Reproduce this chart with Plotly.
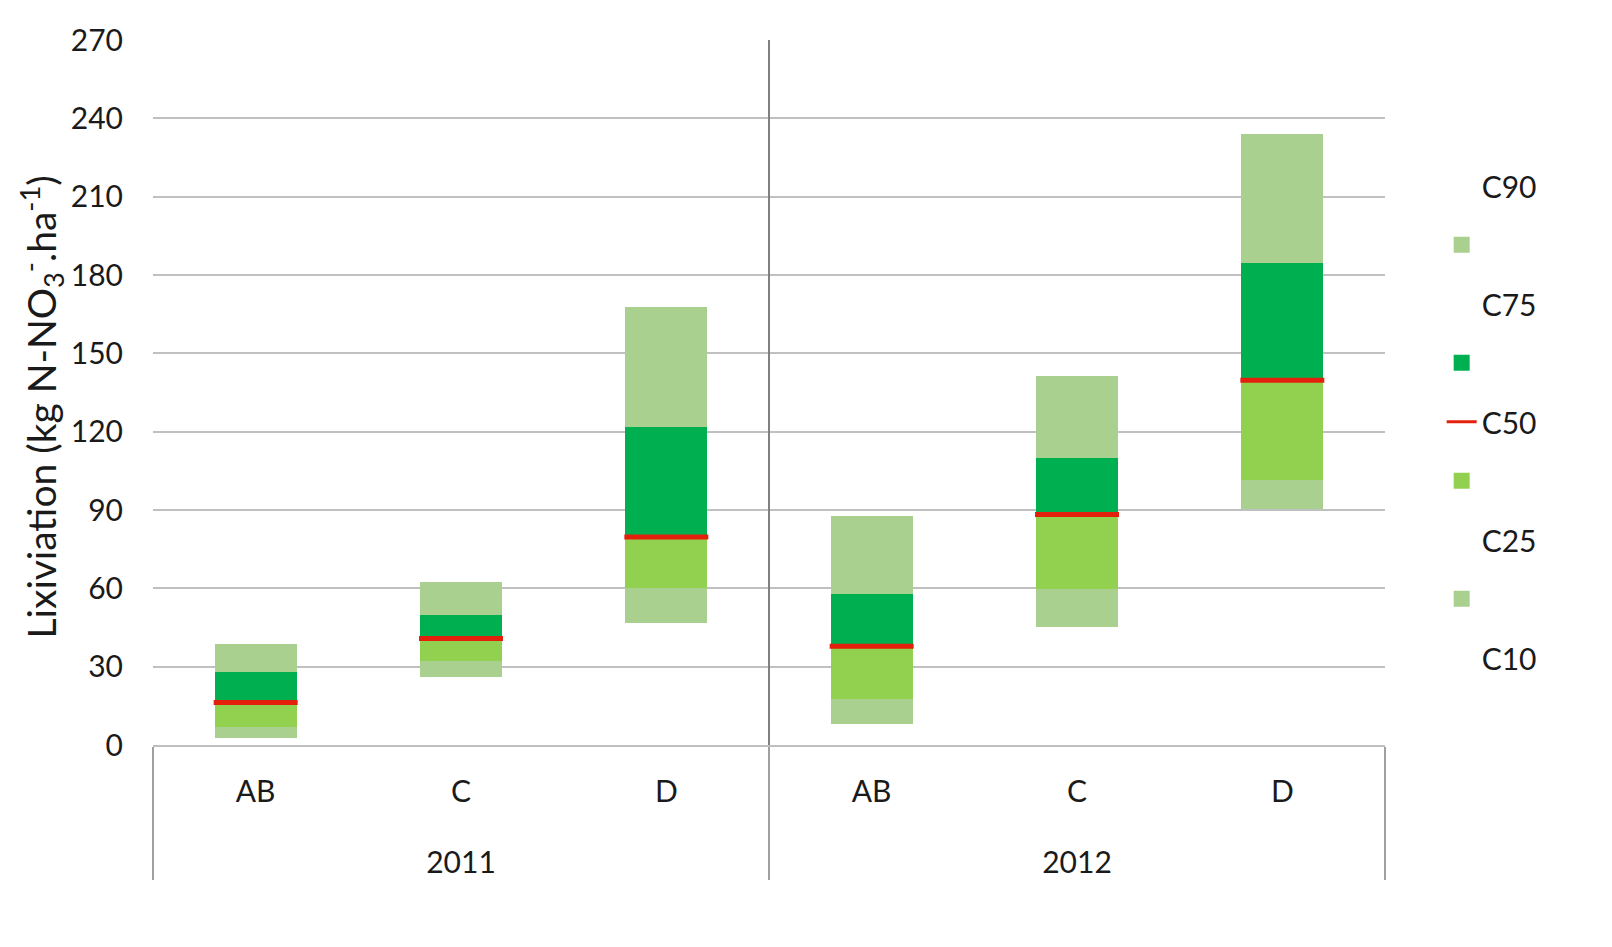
import plotly.graph_objects as go

# Categories (two-level x axis)
years = ["2011", "2011", "2011", "2012", "2012", "2012"]
classes = ["AB", "C", "D", "AB", "C", "D"]

# Percentiles (kg N-NO3-/ha)
c10 = [2.7, 25.9, 46.8, 8.1, 45.2, 90.3]
c25 = [7.0, 32.1, 60.0, 17.8, 59.8, 101.6]
c50 = [16.3, 40.8, 79.7, 37.8, 88.3, 139.7]
c75 = [28.1, 49.6, 121.9, 57.9, 109.9, 184.5]
c90 = [38.7, 62.3, 167.9, 87.7, 141.3, 234.1]

LIGHT = "#A9D08E"
MID = "#92D050"
DARK = "#00B050"
RED = "#E3200B"
FONT = "Lato"

# tick font is set larger than the shown text so the empty first line of the
# year labels pushes them further down, like the Excel layout
LBL = "<span style='font-size:30px'>%s</span>"
x = [["<br>" + LBL % y for y in years], [LBL % c for c in classes]]


def diff(a, b):
    return [round(j - i, 2) for i, j in zip(a, b)]


fig = go.Figure()

# invisible base up to C10, then the stacked bands
fig.add_trace(go.Bar(x=x, y=c10, width=0.4,
                     marker=dict(color="rgba(0,0,0,0)", line_width=0),
                     showlegend=False, hoverinfo="skip"))
for seg, col in [(diff(c10, c25), LIGHT), (diff(c25, c50), MID),
                 (diff(c50, c75), DARK), (diff(c75, c90), LIGHT)]:
    fig.add_trace(go.Bar(x=x, y=seg, marker=dict(color=col, line_width=0),
                         width=0.4, showlegend=False))

# median marks (line-ew length is 1.4 x size)
fig.add_trace(go.Scatter(
    x=x, y=c50, mode="markers", showlegend=False,
    marker=dict(symbol="line-ew", size=60, line=dict(color=RED, width=5))
))

# legend entries (Excel-style: labels between the swatches)
legend_items = [("C90", None), (" ", LIGHT), ("C75", None), (" ", DARK),
                ("C50", "line"), (" ", MID), ("C25", None), (" ", LIGHT),
                ("C10", None)]
for i, (name, col) in enumerate(legend_items):
    if col == "line":
        tr = go.Scatter(x=[[x[0][0]], [x[1][0]]], y=[None], mode="lines",
                        line=dict(color=RED, width=3))
    else:
        tr = go.Scatter(x=[[x[0][0]], [x[1][0]]], y=[None], mode="markers",
                        marker=dict(symbol="square", size=16,
                                    color=col if col else "rgba(0,0,0,0)"))
    tr.update(name=name, legendgroup="g%d" % i, hoverinfo="skip")
    fig.add_trace(tr)

fig.add_shape(type="line", xref="x", yref="paper", x0=2.5, x1=2.5, y0=0, y1=1,
              line=dict(color="#808080", width=2))

# y title as an annotation: in the original it sits a bit below the middle
fig.add_annotation(
    text="Lixiviation (kg N-NO<sub>3</sub><sup>-</sup>.ha<sup>-1</sup>)",
    textangle=-90, xref="paper", yref="paper", x=-0.09, y=0.479,
    xanchor="center", yanchor="middle", showarrow=False,
    font=dict(size=39)
)

# page body has an 8px margin, so the figure is 16px smaller than the window
fig.update_layout(
    width=1596, height=931,
    margin=dict(l=145, r=219, t=32, b=194),
    barmode="stack",
    plot_bgcolor="white", paper_bgcolor="white",
    font=dict(family=FONT, size=30, color="#1a1a1a"),
    legend=dict(x=1.046, y=0.83, xanchor="left", yanchor="top",
                traceorder="grouped", tracegroupgap=17,
                font=dict(size=30)),
    xaxis=dict(range=[-0.5, 5.5], showdividers=True, dividercolor="#A0A0A0",
               dividerwidth=2, showline=True, linecolor="#BFBFBF", linewidth=2,
               ticklabelstandoff=13, tickfont=dict(size=35)),
    yaxis=dict(range=[0, 270], dtick=30, showgrid=True, gridcolor="#C0C0C0",
               gridwidth=2, zeroline=False, showline=False,
               ticklabelstandoff=29, tickfont=dict(size=30)),
)

fig.write_html("out.html")
